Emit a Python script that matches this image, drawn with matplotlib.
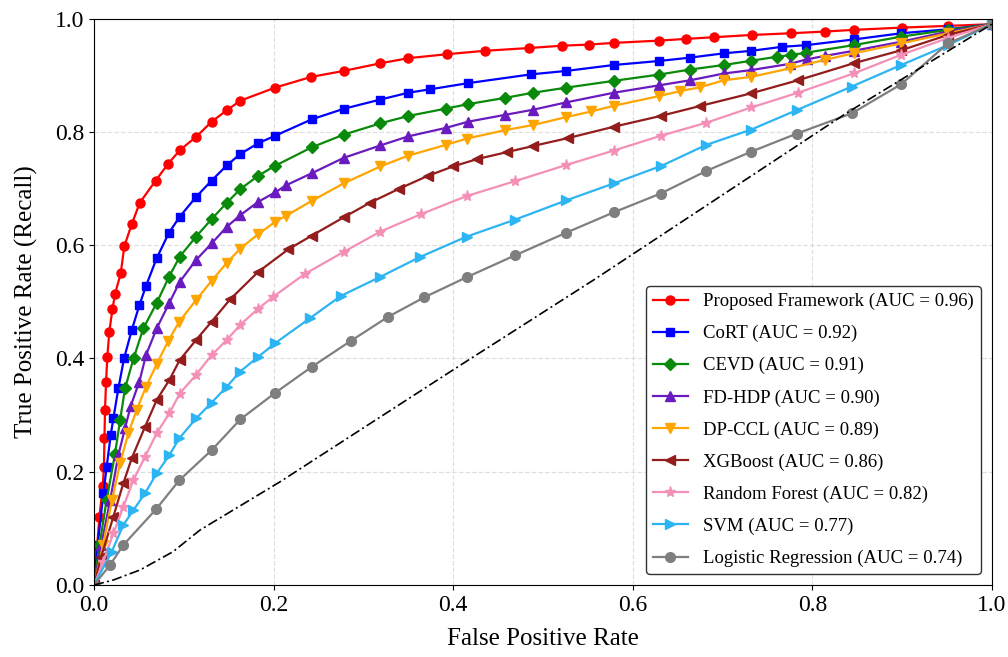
import matplotlib
matplotlib.use("Agg")
import matplotlib.pyplot as plt

plt.rcParams['font.family'] = ['Liberation Serif', 'DejaVu Serif']

# ROC points for each model (FPR, TPR)
proposed_fpr = [0, 0.003, 0.006, 0.0097, 0.011, 0.0116, 0.0122, 0.0134, 0.0148, 0.017, 0.0205, 0.0234,
                0.0297, 0.0337, 0.042, 0.051, 0.0687, 0.0827, 0.0958, 0.1136, 0.1311, 0.1478, 0.163,
                0.2016, 0.242, 0.278, 0.319, 0.350, 0.393, 0.435, 0.485, 0.521, 0.551, 0.579, 0.629,
                0.659, 0.690, 0.733, 0.776, 0.814, 0.846, 0.900, 0.951, 1.0]
proposed_tpr = [0, 0.06, 0.12, 0.174, 0.209, 0.26, 0.309, 0.359, 0.403, 0.447, 0.487, 0.514,
                0.550, 0.598, 0.637, 0.675, 0.714, 0.744, 0.768, 0.791, 0.818, 0.838, 0.855,
                0.878, 0.897, 0.9075, 0.921, 0.930, 0.937, 0.943, 0.948, 0.952, 0.954, 0.957, 0.961,
                0.964, 0.967, 0.971, 0.974, 0.977, 0.980, 0.984, 0.987, 0.99]

cort_fpr = [0, 0.004, 0.0104, 0.0141, 0.0186, 0.0215, 0.0271, 0.0334, 0.042, 0.0505, 0.0579, 0.0698,
            0.0835, 0.0954, 0.1136, 0.131, 0.148, 0.163, 0.183, 0.2016, 0.2424, 0.278, 0.319, 0.350,
            0.374, 0.417, 0.487, 0.526, 0.579, 0.629, 0.664, 0.7016, 0.732, 0.766, 0.793, 0.846,
            0.899, 0.951, 1.0]
cort_tpr = [0, 0.07, 0.162, 0.209, 0.265, 0.294, 0.347, 0.400, 0.450, 0.494, 0.528, 0.577,
            0.622, 0.650, 0.685, 0.714, 0.741, 0.761, 0.780, 0.793, 0.822, 0.8406, 0.857, 0.869,
            0.875, 0.886, 0.9015, 0.9075, 0.918, 0.925, 0.931, 0.9386, 0.943, 0.950, 0.953, 0.963,
            0.974, 0.981, 0.99]

cevd_fpr = [0, 0.006, 0.014, 0.0234, 0.029, 0.0345, 0.044, 0.0549, 0.0698, 0.0835, 0.0954, 0.1136,
            0.131, 0.148, 0.163, 0.183, 0.2016, 0.2424, 0.278, 0.319, 0.350, 0.392, 0.417, 0.458,
            0.489, 0.526, 0.579, 0.629, 0.664, 0.7016, 0.732, 0.761, 0.776, 0.793, 0.846, 0.899,
            0.951, 1.0]
cevd_tpr = [0, 0.07, 0.15, 0.232, 0.291, 0.347, 0.400, 0.453, 0.498, 0.544, 0.5795, 0.615,
            0.646, 0.675, 0.699, 0.7226, 0.740, 0.7726, 0.795, 0.815, 0.828, 0.841, 0.849, 0.860,
            0.869, 0.878, 0.890, 0.901, 0.910, 0.918, 0.9255, 0.9326, 0.9356, 0.9397, 0.953, 0.968,
            0.980, 0.99]

fdhdp_fpr = [0, 0.008, 0.018, 0.0271, 0.0345, 0.0408, 0.0505, 0.0579, 0.0698, 0.0835, 0.0954, 0.1136,
             0.131, 0.148, 0.163, 0.183, 0.2016, 0.214, 0.2424, 0.278, 0.319, 0.350, 0.392, 0.417,
             0.458, 0.489, 0.526, 0.579, 0.629, 0.664, 0.7016, 0.732, 0.775, 0.794, 0.814, 0.846,
             0.899, 0.951, 1.0]
fdhdp_tpr = [0, 0.07, 0.15, 0.2295, 0.2766, 0.316, 0.359, 0.406, 0.453, 0.497, 0.535, 0.5737,
             0.603, 0.6325, 0.653, 0.6766, 0.693, 0.7057, 0.7268, 0.754, 0.776, 0.792, 0.807, 0.818,
             0.830, 0.839, 0.852, 0.869, 0.882, 0.891, 0.903, 0.909, 0.920, 0.928, 0.934, 0.943,
             0.959, 0.977, 0.99]

dpccl_fpr = [0, 0.01, 0.02, 0.029, 0.0382, 0.0475, 0.0579, 0.0698, 0.0827, 0.095, 0.1136, 0.131,
             0.148, 0.163, 0.183, 0.2016, 0.214, 0.2424, 0.278, 0.319, 0.350, 0.392, 0.415, 0.458,
             0.489, 0.526, 0.554, 0.579, 0.629, 0.653, 0.6748, 0.7016, 0.732, 0.775, 0.814, 0.846,
             0.899, 0.951, 1.0]
dpccl_tpr = [0, 0.07, 0.15, 0.215, 0.268, 0.309, 0.350, 0.390, 0.431, 0.465, 0.503, 0.537,
             0.569, 0.594, 0.6196, 0.641, 0.652, 0.678, 0.709, 0.739, 0.758, 0.777, 0.788, 0.803,
             0.812, 0.826, 0.836, 0.846, 0.863, 0.872, 0.8786, 0.891, 0.897, 0.912, 0.927, 0.9386,
             0.956, 0.974, 0.99]

xgb_fpr = [0, 0.008, 0.0215, 0.0326, 0.042, 0.0568, 0.0698, 0.0839, 0.0954, 0.1136, 0.131, 0.1514,
           0.183, 0.2164, 0.2424, 0.278, 0.307, 0.340, 0.372, 0.400, 0.427, 0.4595, 0.489, 0.528,
           0.579, 0.631, 0.6748, 0.732, 0.784, 0.846, 0.899, 0.951, 1.0]
xgb_tpr = [0, 0.05, 0.1206, 0.1795, 0.2237, 0.2795, 0.3266, 0.362, 0.397, 0.4325, 0.465, 0.504,
           0.553, 0.5926, 0.6167, 0.649, 0.6746, 0.6997, 0.7224, 0.739, 0.752, 0.764, 0.775, 0.789,
           0.809, 0.828, 0.8455, 0.868, 0.891, 0.921, 0.944, 0.971, 0.99]

rf_fpr = [0, 0.01, 0.0215, 0.0326, 0.0438, 0.0568, 0.0698, 0.0839, 0.0954, 0.1136, 0.131, 0.1478,
          0.1626, 0.183, 0.1997, 0.2346, 0.278, 0.319, 0.3647, 0.415, 0.469, 0.526, 0.579, 0.631,
          0.682, 0.732, 0.784, 0.846, 0.899, 0.951, 1.0]
rf_tpr = [0, 0.04, 0.091, 0.138, 0.185, 0.2265, 0.268, 0.303, 0.338, 0.371, 0.406, 0.4325,
          0.459, 0.488, 0.509, 0.549, 0.588, 0.624, 0.655, 0.6866, 0.713, 0.7415, 0.767, 0.793,
          0.816, 0.843, 0.869, 0.903, 0.936, 0.9656, 0.99]

svm_fpr = [0, 0.0197, 0.0326, 0.0438, 0.0568, 0.0698, 0.0839, 0.095, 0.1136, 0.131, 0.1478, 0.1626,
           0.183, 0.2016, 0.2405, 0.275, 0.318, 0.363, 0.415, 0.469, 0.526, 0.579, 0.632, 0.682,
           0.732, 0.783, 0.844, 0.899, 0.951, 1.0]
svm_tpr = [0, 0.0588, 0.106, 0.132, 0.162, 0.197, 0.2295, 0.259, 0.294, 0.322, 0.350, 0.3766,
           0.403, 0.4267, 0.471, 0.5104, 0.5433, 0.579, 0.615, 0.645, 0.679, 0.709, 0.740, 0.777,
           0.804, 0.8385, 0.880, 0.918, 0.953, 0.99]

lr_fpr = [0, 0.0178, 0.0326, 0.069, 0.095, 0.131, 0.163, 0.2016, 0.2424, 0.2858, 0.3277, 0.368,
          0.415, 0.469, 0.526, 0.579, 0.631, 0.682, 0.732, 0.783, 0.844, 0.899, 0.951, 1.0]
lr_tpr = [0, 0.0353, 0.0706, 0.1336, 0.185, 0.238, 0.2925, 0.339, 0.385, 0.4307, 0.4736, 0.508,
          0.5433, 0.582, 0.622, 0.658, 0.691, 0.731, 0.765, 0.797, 0.8326, 0.884, 0.956, 0.99]

# reference line
chance_fpr = [0, 0.0215, 0.0512, 0.088, 0.118, 0.207, 0.408, 0.556, 0.838, 1.0]
chance_tpr = [0, 0.0088, 0.0265, 0.0588, 0.097, 0.182, 0.388, 0.538, 0.833, 0.99]

names = ["Proposed Framework", "CoRT", "CEVD", "FD-HDP", "DP-CCL", "XGBoost",
         "Random Forest", "SVM", "Logistic Regression"]
auc_values = [0.96, 0.92, 0.91, 0.90, 0.89, 0.86, 0.82, 0.77, 0.74]

fprs = [proposed_fpr, cort_fpr, cevd_fpr, fdhdp_fpr, dpccl_fpr, xgb_fpr, rf_fpr, svm_fpr, lr_fpr]
tprs = [proposed_tpr, cort_tpr, cevd_tpr, fdhdp_tpr, dpccl_tpr, xgb_tpr, rf_tpr, svm_tpr, lr_tpr]
colors = ["#ff0000", "#0000ff", "#0a8a0a", "#6a1bbf", "#ffa500", "#931c1c",
          "#f48fb8", "#2db4f2", "#7f7f7f"]
markers = ["o", "s", "D", "^", "v", "<", "*", ">", "o"]
sizes = [6.5, 6, 6, 6.5, 6.5, 7, 8, 7, 7]

fig = plt.figure(figsize=(10.08, 6.57), dpi=100)
ax = fig.add_subplot(111)
fig.subplots_adjust(left=0.0933, right=0.984, bottom=0.1096, top=0.9718)

for i in range(len(names)):
    ax.plot(fprs[i], tprs[i], color=colors[i], marker=markers[i], markersize=sizes[i],
            linewidth=1.6, label=f"{names[i]} (AUC = {auc_values[i]:.2f})")

ax.plot(chance_fpr, chance_tpr, color="black", linestyle=(0, (6, 2, 1.2, 2)), linewidth=1.2)

ax.set_xlim(0, 1)
ax.set_ylim(0, 1)
ax.set_xticks([0, 0.2, 0.4, 0.6, 0.8, 1.0])
ax.set_yticks([0, 0.2, 0.4, 0.6, 0.8, 1.0])
ax.tick_params(labelsize=17)
ax.grid(True, linestyle="--", color="#d8d8d8", linewidth=0.9, alpha=0.8)

ax.set_xlabel("False Positive Rate", fontsize=18, labelpad=9)
ax.set_ylabel("True Positive Rate (Recall)", fontsize=18, labelpad=12)

ax.legend(loc="lower right", fontsize=13.5, labelspacing=0.79, edgecolor="#333333",
          framealpha=1.0, borderaxespad=0.6, borderpad=0.35, handlelength=1.9,
          handletextpad=0.8)

fig.savefig("out.png", dpi=100)
